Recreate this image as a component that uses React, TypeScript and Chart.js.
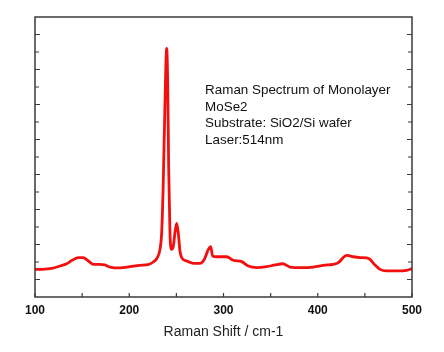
import React, { useEffect, useRef } from "react";
import { Chart, registerables } from "chart.js";

Chart.register(...registerables);

const ramanShift = [
  100, 103, 116, 126.5, 133.6, 139, 146, 151, 156.6, 162, 169, 174, 179.6, 190, 200.8, 211, 220,
  225.5, 229.8, 232.6, 234.4, 236, 238, 239.7, 240.8, 241.8, 243.2, 245, 246.8, 248.5, 250.3, 252,
  253.8, 255.6, 261, 268, 275, 279.3, 284, 286.4, 288.5, 292.7, 303.4, 310.4, 319.3, 326.3, 335,
  345.8, 354.6, 362.8, 370.6, 381, 395.3, 406, 416.5, 421.8, 427, 430.7, 437.7, 444.8, 451.9,
  455.4, 460.7, 466, 473, 483.7, 494.3, 500,
];
const intensity = [
  1.58, 1.58, 1.62, 1.77, 1.9, 2.08, 2.25, 2.25, 2.06, 1.87, 1.87, 1.83, 1.71, 1.66, 1.73, 1.81, 1.85,
  2.0, 2.25, 2.72, 3.68, 6.34, 11.3, 14.2, 12.25, 7.5, 3.68, 2.72, 2.91, 3.68, 4.2, 3.68,
  2.63, 2.25, 2.06, 1.92, 1.92, 2.11, 2.72, 2.88, 2.34, 2.3, 2.3, 2.1, 2.02, 1.77, 1.68,
  1.73, 1.83, 1.9, 1.71, 1.68, 1.71, 1.81, 1.87, 1.96, 2.25, 2.38, 2.3, 2.25, 2.23,
  2.15, 1.83, 1.58, 1.49, 1.49, 1.52, 1.62,
];
const xTickValues = [100, 200, 300, 400, 500];
const xMinorTicks = [150, 250, 350, 450];
const yTickValues = [1, 2, 3, 4, 5, 6, 7, 8, 9, 10, 11, 12, 13, 14, 15];
const annotationLines = [
  "Raman Spectrum of Monolayer",
  "MoSe2",
  "Substrate: SiO2/Si wafer",
  "Laser:514nm",
];
const xTitle = "Raman Shift / cm-1";

const framePlugin = {
  id: "frame",
  afterDatasetsDraw(chart: any) {
    const { ctx, chartArea } = chart;
    const xs = chart.scales.x;
    const ys = chart.scales.y;
    const { left, right, top, bottom } = chartArea;
    ctx.save();
    ctx.strokeStyle = "#3a3a3a";
    ctx.lineWidth = 1.5;
    ctx.strokeRect(left, top, right - left, bottom - top);
    ctx.lineWidth = 1.2;
    ctx.beginPath();
    [...xTickValues, ...xMinorTicks].forEach((v) => {
      const px = xs.getPixelForValue(v);
      ctx.moveTo(px, bottom);
      ctx.lineTo(px, bottom - 4);
    });
    yTickValues.forEach((v) => {
      const py = ys.getPixelForValue(v);
      const len = v % 2 === 1 ? 5 : 4;
      ctx.moveTo(left, py);
      ctx.lineTo(left + len, py);
      ctx.moveTo(right, py);
      ctx.lineTo(right - len, py);
    });
    ctx.stroke();
    ctx.fillStyle = "#111";
    ctx.font = "13.4px 'Liberation Sans', Arial, sans-serif";
    ctx.textBaseline = "middle";
    ctx.textAlign = "left";
    const tx = xs.getPixelForValue(280.5);
    annotationLines.forEach((line, i) => {
      ctx.fillText(line, tx, 90.7 + i * 16.4);
    });
    ctx.restore();
  },
};

export default function App() {
  const ref = useRef<HTMLCanvasElement | null>(null);
  useEffect(() => {
    if (!ref.current) return;
    const chart = new Chart(ref.current, {
      type: "line",
      data: {
        datasets: [
          {
            data: ramanShift.map((x, i) => ({ x, y: intensity[i] })),
            borderColor: "#f20f0f",
            borderWidth: 2.8,
            pointRadius: 0,
            cubicInterpolationMode: "monotone",
            fill: false,
          },
        ],
      },
      options: {
        animation: false,
        responsive: false,
        maintainAspectRatio: false,
        layout: { padding: { top: 17, right: 32, left: 0, bottom: 0 } },
        plugins: { legend: { display: false }, tooltip: { enabled: false } },
        scales: {
          x: {
            type: "linear",
            min: 100,
            max: 500,
            grid: { display: false, drawTicks: false },
            border: { display: false },
            afterBuildTicks: (scale: any) => {
              scale.ticks = xTickValues.map((v) => ({ value: v }));
            },
            ticks: {
              padding: 6,
              color: "#111",
              font: { family: "'Liberation Sans', Arial, sans-serif", size: 12, weight: "bold" },
              maxRotation: 0,
              autoSkip: false,
            },
            title: {
              display: true,
              text: xTitle,
              color: "#222",
              font: { family: "'Liberation Sans', Arial, sans-serif", size: 14 },
              padding: { top: 0, bottom: 11 },
            },
            afterFit: (scale: any) => {
              scale.height = 55;
            },
          },
          y: {
            type: "linear",
            min: 0,
            max: 16,
            grid: { display: false, drawTicks: false },
            border: { display: false },
            ticks: { display: false },
            afterFit: (scale: any) => {
              scale.width = 35;
            },
          },
        },
      },
      plugins: [framePlugin],
    });
    return () => chart.destroy();
  }, []);
  return (
    <div style={{ position: "absolute", left: 0, top: 0, width: 444, height: 352, background: "#fff" }}>
      <canvas ref={ref} width={444} height={352} style={{ width: 444, height: 352 }} />
    </div>
  );
}
